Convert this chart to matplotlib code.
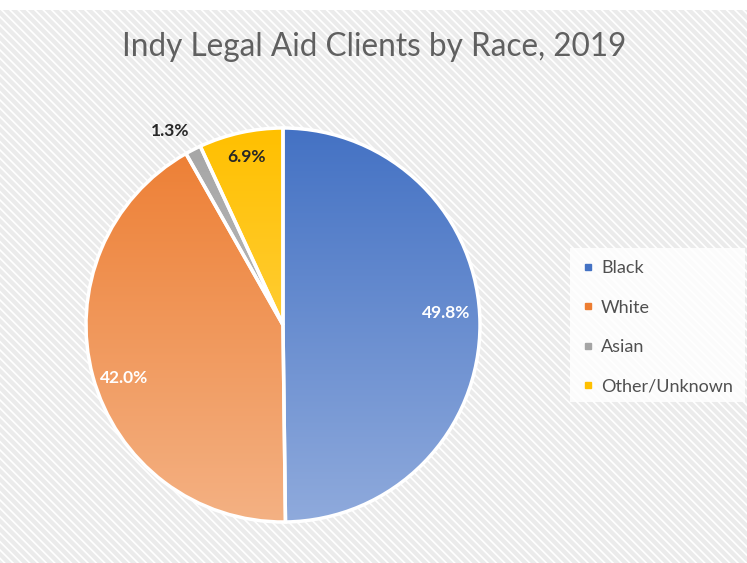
import matplotlib
matplotlib.use("Agg")
import matplotlib.pyplot as plt
import numpy as np
from matplotlib.patches import Rectangle
from matplotlib.colors import LinearSegmentedColormap
import matplotlib.lines as mlines

categories = ["Black", "White", "Asian", "Other/Unknown"]
values = [49.8, 42.0, 1.3, 6.9]
labels = ["49.8%", "42.0%", "1.3%", "6.9%"]
top_colors = ["#4472c4", "#ed7d31", "#a5a5a5", "#ffc000"]
bottom_colors = ["#8faadc", "#f4b183", "#c9c9c9", "#ffd966"]
title = "Indy Legal Aid Clients by Race, 2019"

W, H = 747, 563
fig = plt.figure(figsize=(W / 100, H / 100), dpi=100)
fig.patch.set_facecolor("white")

# hatched background
bg = fig.add_axes([0, 0, 1, 1 - 10 / H])
bg.set_xlim(0, 1); bg.set_ylim(0, 1); bg.axis("off")
plt.rcParams["hatch.color"] = "#ffffff"
plt.rcParams["hatch.linewidth"] = 1.2
bg.add_patch(Rectangle((0, 0), 1, 1, facecolor="#ebebeb", edgecolor="#ffffff",
                       hatch="\\\\\\\\", linewidth=0))

font = ["Lato", "DejaVu Sans"]
fig.text(374 / W, 1 - 47 / H, title, ha="center", va="center", fontsize=22.7,
         color="#606060", family=font)

cx, cy, r = 283, 325, 197
ax = fig.add_axes([(cx - r) / W, (H - cy - r) / H, 2 * r / W, 2 * r / H])
ax.set_xlim(-1, 1); ax.set_ylim(-1, 1); ax.axis("off")

wedges, _ = ax.pie(values, startangle=90, counterclock=False, radius=1,
                   wedgeprops=dict(edgecolor="white", linewidth=2.5, facecolor="none"))
for w, c0, c1 in zip(wedges, top_colors, bottom_colors):
    cmap = LinearSegmentedColormap.from_list("g", [c0, c1])
    grad = np.linspace(0, 1, 256).reshape(-1, 1)
    im = ax.imshow(grad, extent=[-1, 1, -1, 1], origin="upper", cmap=cmap,
                   aspect="auto", zorder=0)
    im.set_clip_path(w)
    w.set_zorder(2)
ax.set_xlim(-1, 1); ax.set_ylim(-1, 1)

def px2data(x, y):
    return (x - cx) / r, (cy - y) / r

lab_pos = [(446, 313), (124, 378), (170, 131), (247, 157)]
lab_col = ["white", "white", "#262626", "#262626"]
for (x, y), t, c in zip(lab_pos, labels, lab_col):
    dx, dy = px2data(x, y)
    ax.text(dx, dy, t, ha="center", va="center", fontsize=12.5, color=c,
            fontweight="bold", family=font, zorder=5)

# legend box
lx0, ly0, lx1, ly1 = 570, 248, 745, 402
fig.patches.append(Rectangle((lx0 / W, 1 - ly1 / H), (lx1 - lx0) / W, (ly1 - ly0) / H,
                             transform=fig.transFigure, facecolor="white",
                             edgecolor="none", alpha=0.85, zorder=1))
handles = [mlines.Line2D([], [], marker="s", linestyle="none", markersize=5,
                         markerfacecolor=c, markeredgecolor=c) for c in top_colors]
leg = fig.legend(handles, categories, loc="upper left",
                 bbox_to_anchor=(566 / W, 1 - 244 / H), frameon=False,
                 labelspacing=1.3, handlelength=0.6, handletextpad=0.45,
                 prop={"family": font, "size": 13}, labelcolor="#505050")

fig.savefig("out.png", dpi=100)
